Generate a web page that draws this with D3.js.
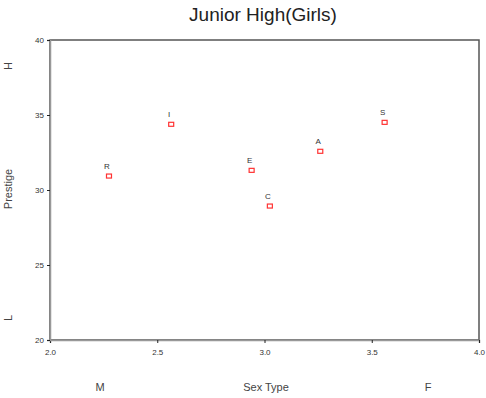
<!DOCTYPE html>
<html lang="en">
<head>
<meta charset="UTF-8">
<title>Junior High(Girls)</title>
<style>
    body { margin: 0; background: #fff; font-family: Arial, "Liberation Sans", sans-serif; }
    svg { display: block; }
</style>
</head>
<body>
<svg id="chart"></svg>
<script src="https://d3js.org/d3.v7.min.js"></script>
<script>
    // Data
    const codes = ["R", "I", "E", "C", "A", "S"];
    const sexType = [2.275, 2.565, 2.94, 3.025, 3.26, 3.56];
    const prestige = [30.93, 34.38, 31.31, 28.93, 32.58, 34.51];
    const xTicks = [2.0, 2.5, 3.0, 3.5, 4.0];
    const yTicks = [20, 25, 30, 35, 40];

    const width = 486, height = 398;
    const svg = d3.select("#chart").attr("width", width).attr("height", height);

    const x = d3.scaleLinear().domain([2, 4]).range([50, 479]);
    const y = d3.scaleLinear().domain([20, 40]).range([340, 40]);

    // title
    svg.append("text")
        .attr("x", 263).attr("y", 21)
        .attr("text-anchor", "middle")
        .attr("font-size", 19)
        .attr("fill", "#222")
        .text("Junior High(Girls)");

    // frame
    svg.append("rect")
        .attr("x", x(2)).attr("y", y(40))
        .attr("width", x(4) - x(2)).attr("height", y(20) - y(40))
        .attr("fill", "none").attr("stroke", "#555").attr("stroke-width", 1.5);

    // axes
    const xAxis = svg.append("g")
        .attr("transform", `translate(0,${y(20)})`)
        .call(d3.axisBottom(x).tickValues(xTicks).tickSize(3).tickFormat(d3.format(".1f")));
    const yAxis = svg.append("g")
        .attr("transform", `translate(${x(2)},0)`)
        .call(d3.axisLeft(y).tickValues(yTicks).tickSize(3).tickFormat(d3.format("d")));
    [xAxis, yAxis].forEach(g => {
        g.select(".domain").attr("stroke", "#999").attr("stroke-width", 1.5);
        g.selectAll(".tick line").attr("stroke", "#222");
        g.selectAll(".tick text").attr("font-size", 8).attr("fill", "#333")
            .attr("font-family", "Arial, sans-serif");
    });
    xAxis.selectAll(".tick text").attr("dy", "1.1em");

    // points
    svg.append("g").selectAll("rect")
        .data(codes)
        .join("rect")
        .attr("x", (d, i) => x(sexType[i]) - 2.5)
        .attr("y", (d, i) => y(prestige[i]) - 2)
        .attr("width", 5).attr("height", 4)
        .attr("fill", "none").attr("stroke", "#f33").attr("stroke-width", 1.2);

    svg.append("g").selectAll("text")
        .data(codes)
        .join("text")
        .attr("x", (d, i) => x(sexType[i]) - 2)
        .attr("y", (d, i) => y(prestige[i]) - 7)
        .attr("text-anchor", "middle")
        .attr("font-size", 8)
        .attr("fill", "#333")
        .text(d => d);

    // axis titles
    const axisLabel = (tx, ty, txt, rot) => svg.append("text")
        .attr("transform", `translate(${tx},${ty}) rotate(${rot})`)
        .attr("text-anchor", "middle")
        .attr("font-size", 11)
        .attr("fill", "#444")
        .text(txt);

    axisLabel(12, 189, "Prestige", -90);
    axisLabel(12, 66, "H", -90);
    axisLabel(12, 318, "L", -90);
    axisLabel(100, 391, "M", 0);
    axisLabel(266, 391, "Sex Type", 0);
    axisLabel(428, 391, "F", 0);
</script>
</body>
</html>
